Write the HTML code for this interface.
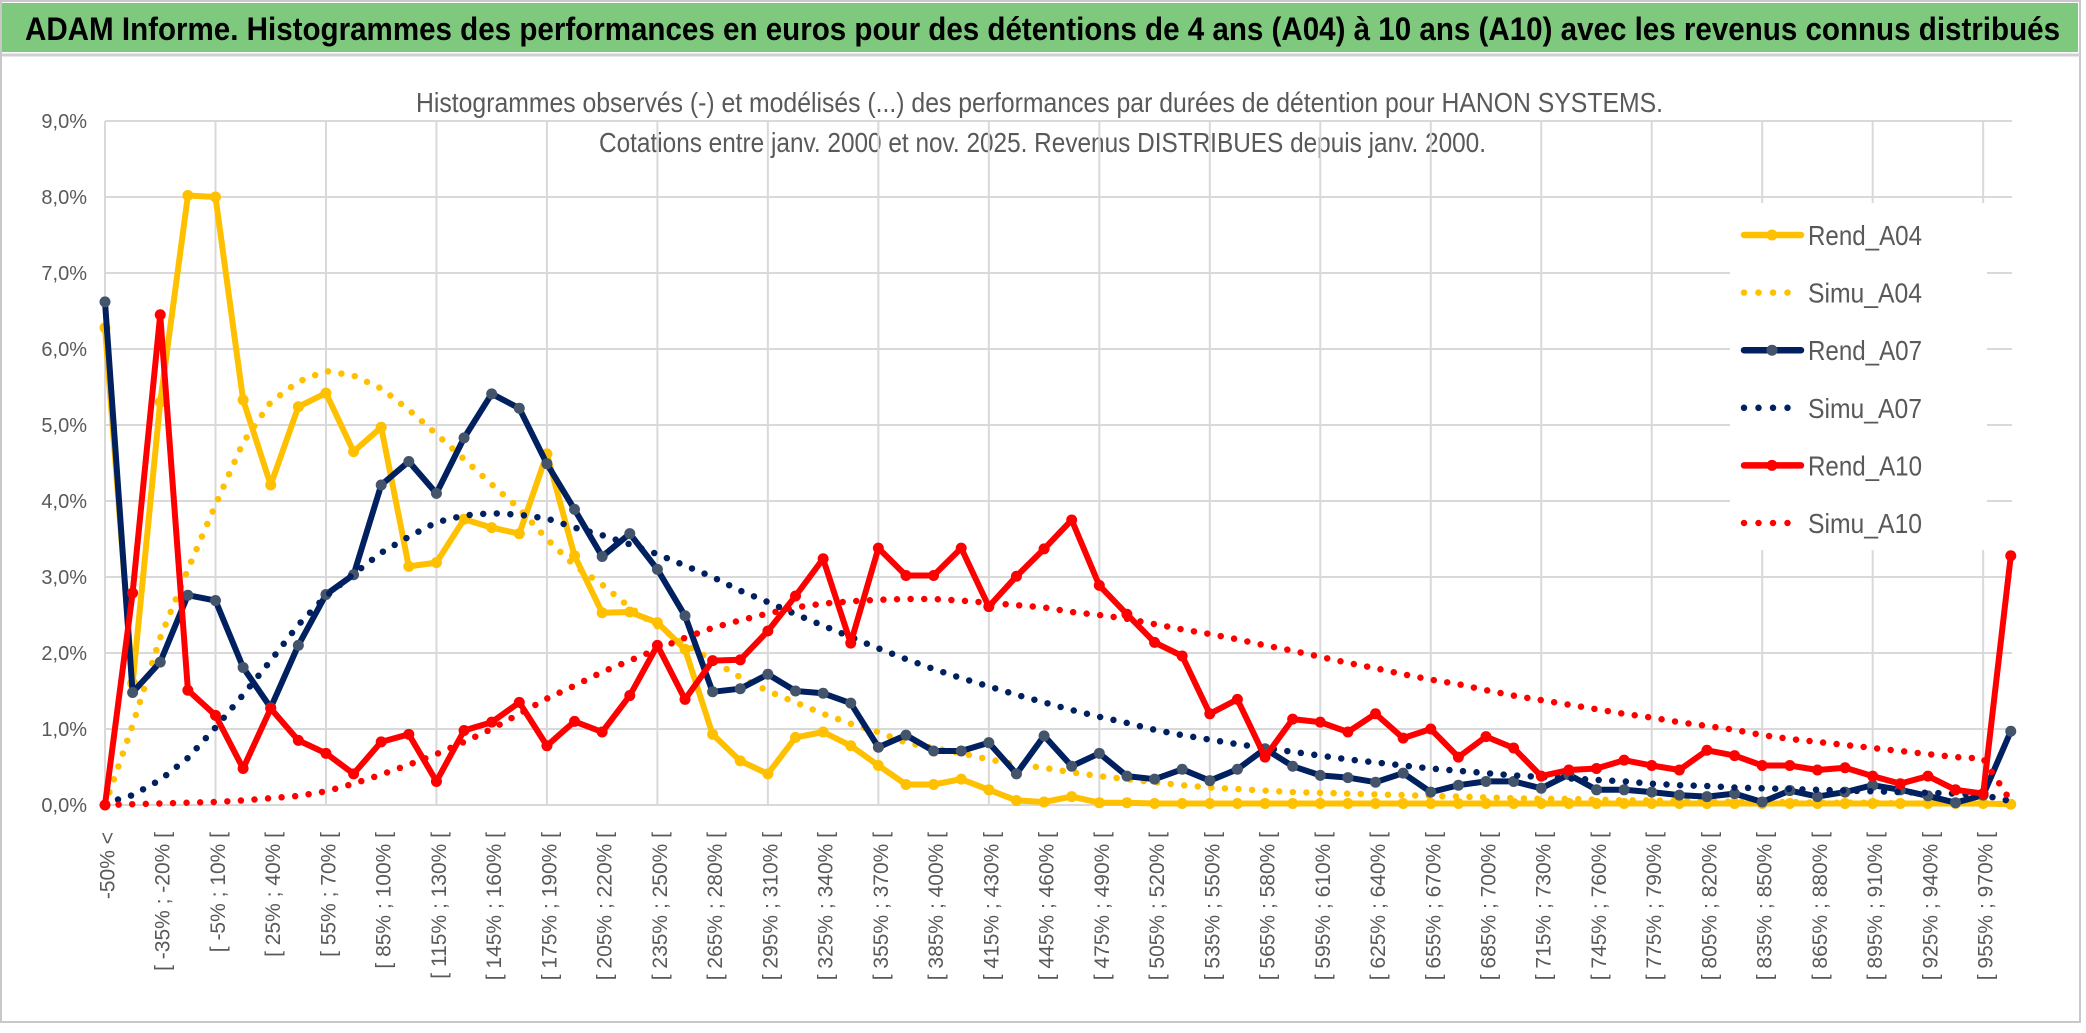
<!DOCTYPE html>
<html><head><meta charset="utf-8"><style>
html,body{margin:0;padding:0;background:#fff;}
svg{display:block;font-family:"Liberation Sans",sans-serif;}
</style></head><body>
<svg id="chart" width="2086" height="1033" viewBox="0 0 2086 1033" xmlns="http://www.w3.org/2000/svg">
<rect x="1" y="1" width="2079" height="1021" fill="#fff" stroke="#c8c8c8" stroke-width="2"/>
<rect x="2" y="3" width="2076" height="49" fill="#7fc97f"/>
<line x1="2" y1="55" x2="2080" y2="55" stroke="#d0d0d0" stroke-width="3"/>
<text x="25" y="40" font-size="32" font-weight="bold" fill="#000" textLength="2035" lengthAdjust="spacingAndGlyphs">ADAM Informe. Histogrammes des performances en euros pour des détentions de 4 ans (A04) à 10 ans (A10) avec les revenus connus distribués</text>
<text x="416" y="112" font-size="28" fill="#595959" textLength="1247" lengthAdjust="spacingAndGlyphs">Histogrammes observés (-) et modélisés (...) des performances par durées de détention pour HANON SYSTEMS.</text>
<text x="599" y="152" font-size="28" fill="#595959" textLength="887" lengthAdjust="spacingAndGlyphs">Cotations entre janv. 2000 et nov. 2025. Revenus DISTRIBUES depuis janv. 2000.</text>
<g id="grid"></g>
<g id="series"></g>
<g id="axes"></g>
<g id="legend"></g>
</svg>
<script>
const rendA04 = [6.28,1.6,5.3,8.02,8.0,5.33,4.21,5.24,5.42,4.65, 4.97,3.14,3.19,3.76,3.65,3.57,4.62,3.28,2.53,2.54, 2.40,2.05,0.93,0.58,0.41,0.89,0.96,0.78,0.52,0.27, 0.27,0.34,0.20,0.06,0.04,0.11,0.03,0.03,0.02,0.02, 0.02,0.02,0.02,0.02,0.02,0.02,0.02,0.02,0.02,0.02, 0.02,0.02,0.02,0.02,0.02,0.02,0.02,0.02,0.02,0.02, 0.02,0.02,0.02,0.02,0.02,0.02,0.02,0.02,0.02,0.01];
const simuA04 = [0,1.05,2.2,3.1,3.95,4.77,5.3,5.57,5.71,5.65, 5.48,5.2,4.88,4.55,4.22,3.9,3.5,3.15,2.9,2.6, 2.35,2.12,1.9,1.68,1.5,1.35,1.2,1.07,0.96,0.82, 0.75,0.68,0.6,0.53,0.49,0.43,0.38,0.34,0.30,0.26, 0.23,0.21,0.19,0.17,0.16,0.15,0.14,0.13,0.12,0.11, 0.10,0.09,0.08,0.08,0.07,0.06,0.06,0.05,0.05,0.04, 0.04,0.04,0.03,0.03,0.03,0.02,0.02,0.02,0.02,0.01];
const rendA07 = [6.62,1.48,1.88,2.76,2.69,1.81,1.28,2.10,2.77,3.03, 4.21,4.52,4.10,4.83,5.41,5.22,4.49,3.89,3.27,3.57, 3.10,2.49,1.49,1.53,1.72,1.50,1.47,1.34,0.76,0.92, 0.71,0.71,0.82,0.41,0.91,0.51,0.68,0.38,0.34,0.47, 0.32,0.47,0.74,0.51,0.39,0.36,0.30,0.42,0.17,0.26, 0.31,0.31,0.22,0.40,0.20,0.20,0.17,0.13,0.11,0.15, 0.04,0.19,0.11,0.17,0.26,0.20,0.12,0.03,0.13,0.97];
const simuA07 = [0.02,0.13,0.33,0.62,1.02,1.45,1.9,2.37,2.75,3.04, 3.32,3.53,3.72,3.81,3.84,3.82,3.77,3.65,3.55,3.43, 3.3,3.15,3.0,2.82,2.67,2.51,2.36,2.21,2.06,1.92, 1.79,1.67,1.56,1.45,1.35,1.25,1.16,1.08,0.99,0.92, 0.86,0.80,0.75,0.70,0.65,0.60,0.56,0.52,0.48,0.45, 0.42,0.39,0.37,0.35,0.33,0.31,0.28,0.26,0.25,0.23, 0.22,0.21,0.20,0.19,0.18,0.17,0.16,0.15,0.13,0.05];
const rendA10 = [0,2.79,6.45,1.51,1.18,0.48,1.27,0.85,0.68,0.41, 0.83,0.93,0.31,0.98,1.09,1.35,0.78,1.10,0.96,1.44, 2.10,1.39,1.90,1.91,2.29,2.75,3.24,2.13,3.38,3.02, 3.02,3.38,2.61,3.01,3.37,3.75,2.89,2.51,2.14,1.96, 1.20,1.39,0.63,1.13,1.09,0.96,1.20,0.88,1.00,0.63, 0.90,0.75,0.38,0.46,0.48,0.59,0.52,0.46,0.72,0.65, 0.52,0.52,0.46,0.49,0.38,0.28,0.38,0.20,0.15,3.28];
const simuA10 = [0,0.01,0.02,0.03,0.04,0.06,0.09,0.12,0.18,0.28, 0.40,0.53,0.67,0.83,1.00,1.20,1.40,1.57,1.75,1.90, 2.05,2.20,2.33,2.43,2.52,2.60,2.65,2.68,2.70,2.71, 2.71,2.69,2.66,2.63,2.60,2.54,2.50,2.45,2.38,2.31, 2.25,2.18,2.10,2.03,1.95,1.87,1.80,1.72,1.65,1.59, 1.51,1.44,1.38,1.32,1.26,1.20,1.15,1.09,1.04,0.99, 0.92,0.87,0.83,0.79,0.75,0.71,0.67,0.63,0.61,0.05];
const yTicks = [0,1,2,3,4,5,6,7,8,9];
const yTickLabels = ["0,0%","1,0%","2,0%","3,0%","4,0%","5,0%","6,0%","7,0%","8,0%","9,0%"];
const binLow = [];
for (let k = 0; k < 69; k++) binLow.push(-50 + 15 * k);
const categories = ["-50% <"];
for (let k = 0; k < 69; k++) categories.push("[ " + binLow[k] + "% ; " + (binLow[k] + 15) + "% [");

const NS = "http://www.w3.org/2000/svg";
const X0 = 105, DX = 27.62, Y0 = 805, DY = 76;
const xs = i => X0 + i * DX;
const ys = v => Y0 - v * DY;
function mk(tag, attrs, parent) {
  const e = document.createElementNS(NS, tag);
  for (const k in attrs) e.setAttribute(k, attrs[k]);
  parent.appendChild(e);
  return e;
}
const grid = document.getElementById('grid');
const axes = document.getElementById('axes');
const seriesG = document.getElementById('series');
const legend = document.getElementById('legend');

yTicks.forEach((t, k) => {
  const l = mk('line', {x1: X0, x2: 2012, y1: ys(t), y2: ys(t), stroke: '#d9d9d9', 'stroke-width': 2}, grid);
  
  
  const tx = mk('text', {x: 87, y: ys(t) + 7, 'text-anchor': 'end', 'font-size': 20, fill: '#595959'}, axes);
  tx.textContent = yTickLabels[k];
  
  
});
for (let i = 0; i < categories.length; i += 4) {
  const l = mk('line', {x1: xs(i), x2: xs(i), y1: ys(9), y2: Y0, stroke: '#d9d9d9', 'stroke-width': 2}, grid);
  
  
}
for (let i = 0; i < categories.length - 1; i += 2) {
  const x = xs(i) + 3, y = 832;
  const tx = mk('text', {x: x, y: y, transform: 'rotate(-90 ' + x + ' ' + y + ')', 'text-anchor': 'end', 'dominant-baseline': 'central', 'font-size': 21, fill: '#595959'}, axes);
  tx.textContent = categories[i];
  
  
}

function drawSeries(vals, color, dotted, marker, name) {
  const g = mk('g', {}, seriesG);
  
  
  const pts = vals.map((v, i) => xs(i).toFixed(1) + ',' + ys(v).toFixed(1)).join(' ');
  const attrs = {points: pts, fill: 'none', stroke: color, 'stroke-linejoin': 'round', 'stroke-linecap': 'round'};
  if (dotted) { attrs['stroke-width'] = 6.5; attrs['stroke-dasharray'] = '0 13.6'; }
  else { attrs['stroke-width'] = 6; }
  const pl = mk('polyline', attrs, g);
  
  
  if (marker) {
    vals.forEach((v, i) => {
      const c = mk('circle', {cx: xs(i), cy: ys(v), r: 5.5, fill: marker}, g);
      
      
    });
  }
}
drawSeries(rendA04, '#FFC000', false, '#FFC000', 'rend-a04');
drawSeries(simuA04, '#FFC000', true, null, 'simu-a04');
drawSeries(rendA07, '#002060', false, '#44546A', 'rend-a07');
drawSeries(simuA07, '#002060', true, null, 'simu-a07');
drawSeries(rendA10, '#FF0000', false, '#FF0000', 'rend-a10');
drawSeries(simuA10, '#FF0000', true, null, 'simu-a10');

const lb = mk('rect', {x: 1730, y: 203, width: 257, height: 347, fill: '#fff'}, legend);


const legNames = ['Rend_A04','Simu_A04','Rend_A07','Simu_A07','Rend_A10','Simu_A10'];
const legColors = ['#FFC000','#FFC000','#002060','#002060','#FF0000','#FF0000'];
const legMarkers = ['#FFC000',null,'#44546A',null,'#FF0000',null];
legNames.forEach((n, k) => {
  const y = 235 + k * 57.6;
  const g = mk('g', {}, legend);
  
  
  if (legMarkers[k]) {
    mk('line', {x1: 1744, x2: 1801, y1: y, y2: y, stroke: legColors[k], 'stroke-width': 6.5, 'stroke-linecap': 'round'}, g);
    mk('circle', {cx: 1772, cy: y, r: 5.5, fill: legMarkers[k]}, g);
  } else {
    mk('line', {x1: 1744, x2: 1800, y1: y, y2: y, stroke: legColors[k], 'stroke-width': 6.5, 'stroke-linecap': 'round', 'stroke-dasharray': '0 14.5'}, g);
  }
  const t = mk('text', {x: 1808, y: y + 10, 'font-size': 28, fill: '#595959', textLength: 114, lengthAdjust: 'spacingAndGlyphs'}, g);
  t.textContent = n;
});
</script>
</body></html>
